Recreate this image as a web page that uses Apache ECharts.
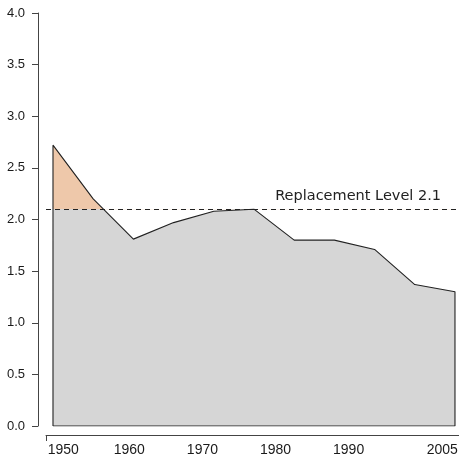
<!DOCTYPE html>
<html>
<head>
<meta charset="utf-8">
<script src="https://cdn.jsdelivr.net/npm/echarts@6/dist/echarts.min.js"></script>
<style>
  html, body { margin: 0; padding: 0; background: #fff; }
  #chart { width: 459px; height: 460px; }
</style>
</head>
<body>
<div id="chart"></div>
<script>
// five-year periods, one point each
var periods = ["1950-55", "1955-60", "1960-65", "1965-70", "1970-75", "1975-80",
  "1980-85", "1985-90", "1990-95", "1995-2000", "2000-05"];
var fertility = [2.72, 2.20, 1.81, 1.97, 2.08, 2.10, 1.80, 1.80, 1.71, 1.37, 1.30];
var replacement = 2.1;
var yearLabels = [1950, 1960, 1970, 1980, 1990, 2005];

var labelFont = "'Liberation Sans', Arial, sans-serif";

var points = fertility.map(function (v, i) { return [i, v]; });
var last = periods.length - 1;
// closed outline: down to zero at both ends
var outline = [[0, 0]].concat(points, [[last, 0], [0, 0]]);

var myChart = echarts.init(document.getElementById("chart"));
myChart.setOption({
  animation: false,
  grid: [
    { left: 46, right: 0, top: 13, bottom: 34, outerBoundsMode: "none" },
    // region above the replacement level, used to clip the orange part
    { left: 46, right: 0, top: 13, bottom: 250.8, outerBoundsMode: "none" }
  ],
  xAxis: [
    { type: "value", gridIndex: 0, min: -0.174, max: 10.1, show: false },
    {
      type: "value",
      gridIndex: 0,
      position: "bottom",
      min: 1948.6,
      max: 2005.1,
      offset: 9,
      axisLine: { show: true, onZero: false, lineStyle: { color: "#444", width: 1 } },
      axisTick: { show: true, customValues: [1948.6], length: 6, lineStyle: { color: "#444" } },
      splitLine: { show: false },
      axisLabel: {
        customValues: yearLabels,
        margin: 8,
        formatter: function (v) {
          if (v === 1950) return "{l|" + v + "}";
          if (v === 2005) return "{r|" + v + "}";
          return "{c|" + v + "}";
        },
        rich: {
          l: { fontFamily: labelFont, fontSize: 14, color: "#1a1a1a", padding: [0, 0, 0, 14] },
          r: { fontFamily: labelFont, fontSize: 14, color: "#1a1a1a", padding: [0, 32, 0, 0] },
          c: { fontFamily: labelFont, fontSize: 14, color: "#1a1a1a" }
        }
      }
    },
    { type: "value", gridIndex: 1, min: -0.174, max: 10.1, show: false }
  ],
  yAxis: [
    {
      type: "value",
      gridIndex: 0,
      min: 0,
      max: 4,
      interval: 0.5,
      offset: 8,
      axisLine: { show: true, onZero: false, lineStyle: { color: "#444", width: 1 } },
      axisTick: { show: true, length: 6, lineStyle: { color: "#444" } },
      splitLine: { show: false },
      axisLabel: {
        margin: 13,
        fontFamily: labelFont,
        fontSize: 13,
        color: "#1a1a1a",
        formatter: function (v) { return v.toFixed(1); }
      }
    },
    { type: "value", gridIndex: 1, min: replacement, max: 4, show: false }
  ],
  series: [
    {
      name: "fill",
      type: "line",
      xAxisIndex: 0,
      yAxisIndex: 0,
      data: points,
      symbol: "none",
      lineStyle: { width: 0 },
      areaStyle: { color: "#d6d6d6", opacity: 1 },
      z: 2
    },
    {
      name: "above",
      type: "line",
      xAxisIndex: 2,
      yAxisIndex: 1,
      data: points,
      symbol: "none",
      clip: true,
      lineStyle: { width: 0 },
      areaStyle: { color: "#eec8aa", opacity: 1, origin: "start" },
      z: 3
    },
    {
      name: "outline",
      type: "line",
      xAxisIndex: 0,
      yAxisIndex: 0,
      data: outline,
      symbol: "none",
      lineStyle: { color: "#222", width: 1.1 },
      z: 4,
      markLine: {
        silent: true,
        symbol: "none",
        lineStyle: { color: "#222", width: 1, type: [5, 4] },
        label: {
          position: "insideEndTop",
          formatter: "Replacement Level " + replacement,
          fontFamily: "'DejaVu Sans', sans-serif",
          fontSize: 14.5,
          color: "#222",
          distance: [18, 5]
        },
        data: [{ yAxis: replacement }]
      }
    }
  ]
});
</script>
</body>
</html>
